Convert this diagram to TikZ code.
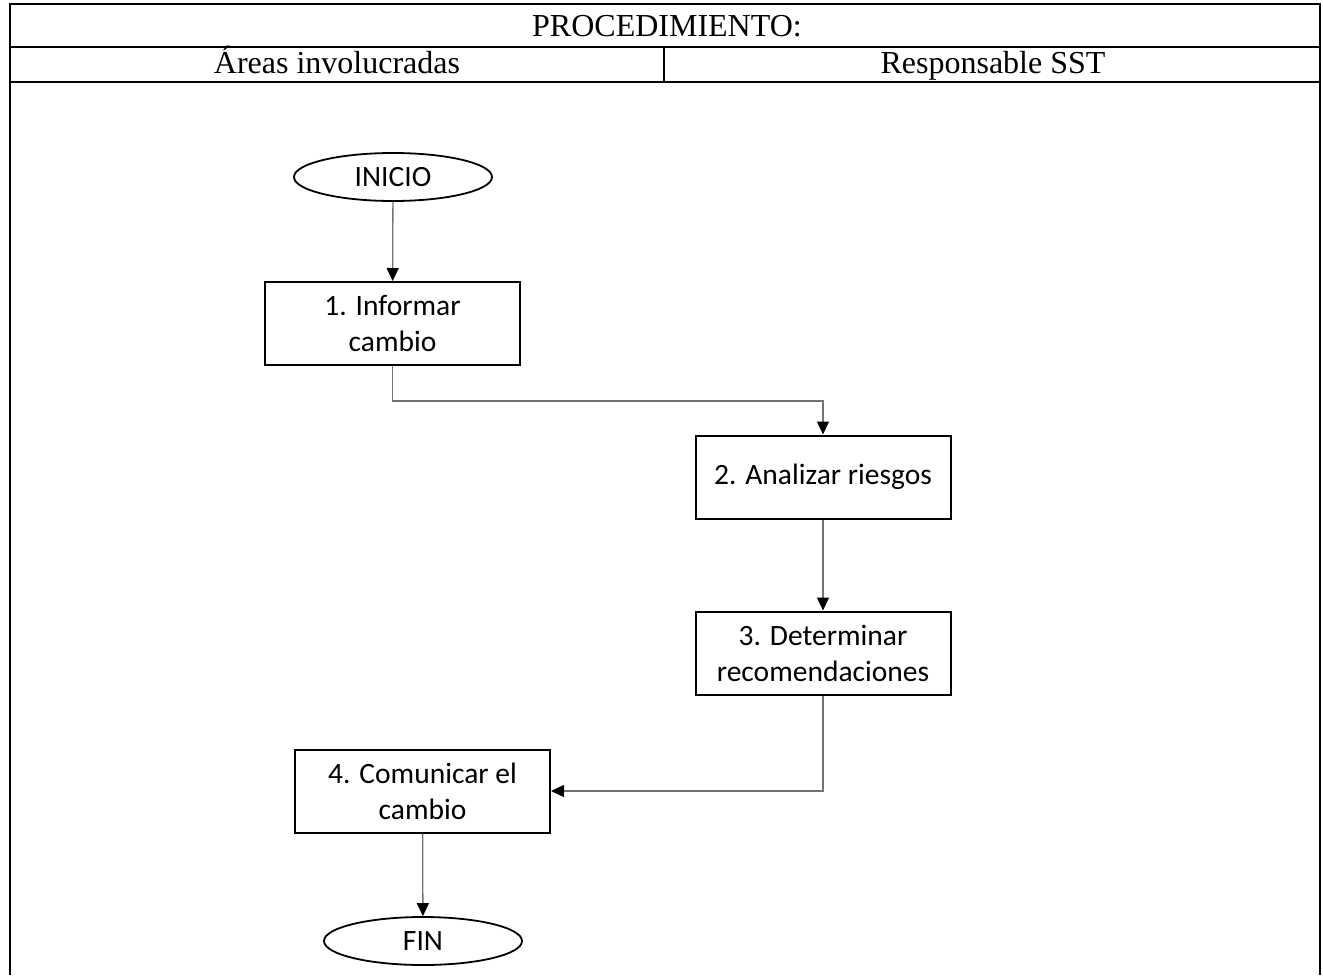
\documentclass[tikz,border=0pt]{standalone}
\usepackage{fontspec}
\setmainfont{Liberation Serif}
\newfontfamily\flowfont{Carlito}
\usetikzlibrary{arrows.meta,shapes.geometric}
\begin{document}
\begin{tikzpicture}[x=1pt,y=-1pt,
  tableline/.style={line width=2.2pt,black},
  headtext/.style={font=\fontsize{32}{38}\selectfont,inner sep=0pt,anchor=base},
  stepbox/.style={draw=black,line width=2pt,minimum width=255pt,minimum height=83pt,
    align=center,inner sep=2pt,font=\flowfont\fontsize{29.5}{36}\selectfont},
  terminal/.style={draw=black,line width=1.8pt,ellipse,minimum width=198pt,minimum height=48pt,
    inner sep=0pt,font=\flowfont\fontsize{29.5}{36}\selectfont},
  conn/.style={line width=1.3pt,draw=black!55,-{Triangle[length=13pt,width=12pt,color=black]}}
]
\useasboundingbox (0,0) rectangle (1323,975);
% table
\draw[tableline] (10,975) -- (10,4) -- (1320,4) -- (1320,975);
\draw[tableline] (10,47) -- (1320,47);
\draw[tableline] (10,82) -- (1320,82);
\draw[tableline] (664,47) -- (664,82);
\node[headtext] (title) at (667,36) {PROCEDIMIENTO:};
\node[headtext] (areas) at (337,73) {Áreas involucradas};
\node[headtext] (resp) at (993,73) {Responsable SST};
% flowchart
\node[terminal] (inicio) at (393,177) {INICIO};
\node[stepbox] (b1) at (392.5,323.5) {1. Informar\\cambio};
\node[stepbox] (b2) at (823,477) {2. Analizar riesgos};
\node[stepbox] (b3) at (823,653) {3. Determinar\\recomendaciones};
\node[stepbox] (b4) at (422.5,791) {4. Comunicar el\\cambio};
\node[terminal] (fin) at (423,941) {FIN};
\coordinate (k1) at (392.5,401);
\draw[conn] (inicio) -- (b1);
\draw[conn] (b1.south) -- (k1) -| (b2.north);
\draw[conn] (b2) -- (b3);
\draw[conn] (b3.south) |- (b4.east);
\draw[conn] (b4) -- (fin);
\end{tikzpicture}
\end{document}
